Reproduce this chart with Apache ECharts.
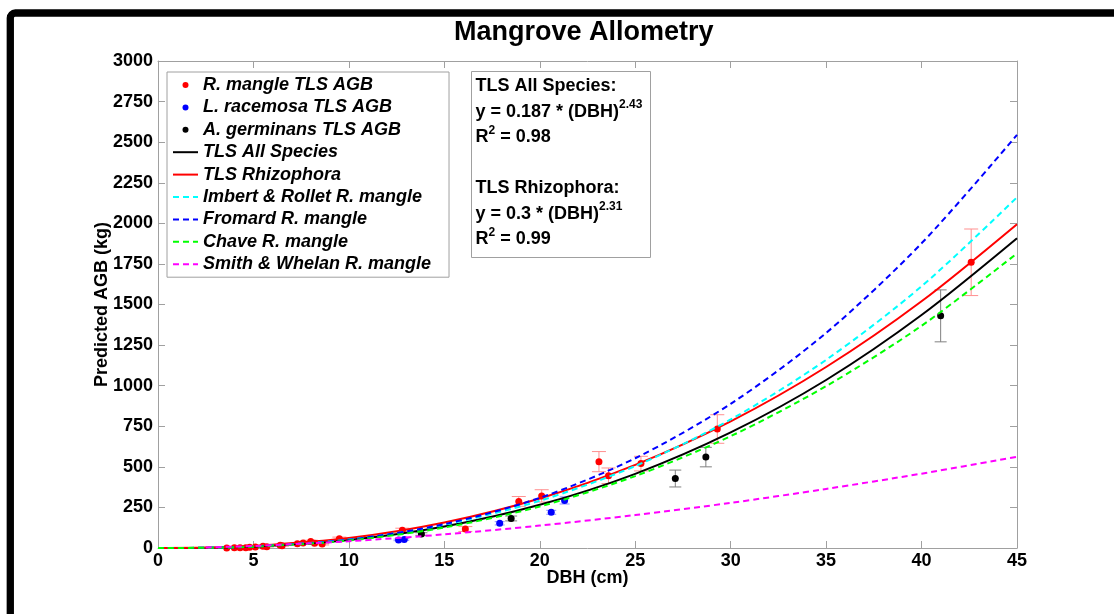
<!DOCTYPE html>
<html>
<head>
<meta charset="utf-8">
<title>Mangrove Allometry</title>
<script src="https://cdn.jsdelivr.net/npm/echarts@6/dist/echarts.min.js"></script>
<style>
  html, body { margin: 0; padding: 0; background: #fff; }
  #chart { width: 1114px; height: 614px; }
</style>
</head>
<body>
<div id="chart"></div>
<script>
// field measurements (DBH in cm, AGB in kg, +/- error)
const rmangleDbh = [3.6, 4.0, 4.3, 4.6, 4.8, 5.1, 5.5, 5.7, 6.4, 6.5, 7.3, 7.6, 8.0, 8.2, 8.6, 9.5, 12.8, 16.1, 18.9, 20.1, 23.1, 23.6, 25.3, 29.3, 42.6]
const rmangleAgb = [0, 1, 2, 2, 4, 6, 11, 8, 17, 14, 26, 31, 40, 30, 24, 57, 110, 117, 287, 321, 532, 445, 520, 733, 1760]
const rmangleErr = [1, 1, 1, 1, 2, 2, 3, 2, 4, 3, 5, 6, 8, 6, 5, 10, 12, 15, 30, 38, 62, 48, 45, 88, 205]

const lracemosaDbh = [12.6, 12.9, 17.9, 20.6, 21.3]
const lracemosaAgb = [50, 52, 152, 220, 293]
const lracemosaErr = [5, 5, 10, 12, 22]

const agermDbh = [13.8, 18.5, 27.1, 28.7, 41.0]
const agermAgb = [86, 182, 428, 560, 1430]
const agermErr = [8, 15, 52, 60, 160]

// allometric curves
const curveDbh = [0, 2.5, 5, 10, 15, 20, 25, 30, 35, 40, 45]
const allSpecies = [0, 1.7, 9.1, 49, 132, 266, 457, 712, 1035, 1435, 1908]
const rhizophora = [0, 2.5, 12.4, 61, 157, 305, 512, 780, 1115, 1520, 1995]
const imbertRollet = [0, 1.7, 9.5, 52.5, 143, 291, 505, 792, 1159, 1612, 2160]
const fromard = [0, 1.4, 8.4, 51, 147, 309, 553, 888, 1325, 1877, 2545]
const chave = [0, 1.6, 8.3, 46, 126, 256, 443, 689, 997, 1369, 1815]
const smithDbh = [2.5, 5, 10, 15, 20, 25, 30, 35, 40, 45]
const smithWhelan = [3.8, 12.5, 41.6, 84, 138, 203, 278, 364, 458, 562]

const xTicks = { min: 0, max: 45, interval: 5 }
const yTicks = { min: 0, max: 3000, interval: 250 }

const pairs = (xs, ys) => xs.map((x, i) => [x, ys[i]])
const errRows = (xs, ys, es) => xs.map((x, i) => [x, ys[i] - es[i], ys[i] + es[i]])

const errorBar = (color, capW) => (params, api) => {
  const x = api.value(0)
  const lo = api.coord([x, api.value(1)])
  const hi = api.coord([x, api.value(2)])
  const h = capW / 2
  const style = { stroke: color, lineWidth: 1 }
  return {
    type: 'group',
    children: [
      { type: 'line', shape: { x1: lo[0], y1: lo[1], x2: hi[0], y2: hi[1] }, style },
      { type: 'line', shape: { x1: hi[0] - h, y1: hi[1], x2: hi[0] + h, y2: hi[1] }, style },
      { type: 'line', shape: { x1: lo[0] - h, y1: lo[1], x2: lo[0] + h, y2: lo[1] }, style }
    ]
  }
}

const FONT = 'Liberation Sans, Arial, sans-serif'
const AXIS_GRAY = '#a0a0a0'
const dotIcon = 'path://M0,0M25,14M9.5,7a3,3 0 1,0 6,0a3,3 0 1,0 -6,0Z'
// hide the marker ECharts puts in the middle of a line legend icon
const noMarker = { color: 'rgba(0,0,0,0)', opacity: 0, borderWidth: 0 }

const curve = (name, xs, ys, color, dashed) => ({
  name,
  type: 'line',
  data: pairs(xs, ys),
  smooth: 0.3,
  symbol: 'none',
  lineStyle: { color, width: 2, type: dashed ? [6, 4] : 'solid' },
  itemStyle: { color },
  z: 4
})

const dots = (name, xs, ys, color) => ({
  name,
  type: 'scatter',
  data: pairs(xs, ys),
  symbolSize: 7,
  itemStyle: { color, opacity: 1 },
  z: 3
})

const bars = (xs, ys, es, color, capW) => ({
  type: 'custom',
  data: errRows(xs, ys, es),
  encode: { x: 0, y: [1, 2] },
  renderItem: errorBar(color, capW),
  silent: true,
  z: 2
})

const chart = echarts.init(document.getElementById('chart'))

const axisCommon = {
  type: 'value',
  axisLine: { show: true, onZero: false, lineStyle: { color: AXIS_GRAY, width: 1 } },
  axisTick: { show: true, inside: true, length: 7, lineStyle: { color: AXIS_GRAY } },
  splitLine: { show: false }
}
const tickLabel = (margin) => ({
  margin,
  formatter: (v) => String(v),
  fontFamily: FONT, fontSize: 18, fontWeight: 'bold', color: '#000'
})
const nameStyle = { fontFamily: FONT, fontSize: 18, fontWeight: 'bold', color: '#000' }

chart.setOption({
  animation: false,
  backgroundColor: '#fff',
  title: {
    text: 'Mangrove Allometry',
    left: 454,
    top: 19,
    padding: 0,
    textStyle: { fontFamily: FONT, fontSize: 27, fontWeight: 'bold', color: '#000' }
  },
  grid: { left: 158, right: 97, top: 61, bottom: 66 },
  xAxis: [
    Object.assign({}, axisCommon, xTicks, {
      position: 'bottom',
      name: 'DBH (cm)',
      nameLocation: 'middle',
      nameGap: 21,
      nameMoveOverlap: false,
      nameTextStyle: nameStyle,
      axisLabel: tickLabel(4)
    }),
    Object.assign({}, axisCommon, xTicks, { position: 'top', axisLabel: { show: false } })
  ],
  yAxis: [
    Object.assign({}, axisCommon, yTicks, {
      position: 'left',
      name: 'Predicted AGB (kg)',
      nameLocation: 'middle',
      nameGap: 47,
      nameMoveOverlap: false,
      nameTextStyle: nameStyle,
      axisLabel: tickLabel(5)
    }),
    Object.assign({}, axisCommon, yTicks, { position: 'right', axisLabel: { show: false } })
  ],
  legend: {
    orient: 'vertical',
    left: 167,
    top: 72,
    padding: [4, 18, 4, 5],
    itemGap: 4.4,
    itemWidth: 25,
    itemHeight: 14,
    backgroundColor: '#fff',
    borderColor: AXIS_GRAY,
    borderWidth: 1,
    borderRadius: 0,
    selectedMode: false,
    textStyle: { fontFamily: FONT, fontSize: 18, fontWeight: 'bold', fontStyle: 'italic', color: '#000', lineHeight: 18 },
    data: [
      { name: 'R. mangle TLS AGB', icon: dotIcon },
      { name: 'L. racemosa TLS AGB', icon: dotIcon },
      { name: 'A. germinans TLS AGB', icon: dotIcon },
      { name: 'TLS All Species', itemStyle: noMarker },
      { name: 'TLS Rhizophora', itemStyle: noMarker },
      { name: 'Imbert & Rollet R. mangle', itemStyle: noMarker },
      { name: 'Fromard R. mangle', itemStyle: noMarker },
      { name: 'Chave R. mangle', itemStyle: noMarker },
      { name: 'Smith & Whelan R. mangle', itemStyle: noMarker }
    ]
  },
  graphic: [
    {
      type: 'rect',
      shape: { x: 10.3, y: 13, width: 1300, height: 800, r: 5 },
      style: { fill: null, stroke: '#000', lineWidth: 7.3 },
      silent: true
    },
    {
      type: 'group',
      left: 471,
      top: 71,
      children: [
        {
          type: 'rect',
          shape: { x: 0, y: 0, width: 179, height: 186 },
          style: { fill: '#fff', stroke: AXIS_GRAY, lineWidth: 1 }
        },
        {
          type: 'text',
          x: 4,
          y: 2,
          style: {
            text: '{t|TLS All Species:}\n{t|y = 0.187 * (DBH)}{s|2.43}\n{t|R}{s|2}{t| = 0.98}\n{t| }\n{t|TLS Rhizophora:}\n{t|y = 0.3 * (DBH)}{s|2.31}\n{t|R}{s|2}{t| = 0.99}',
            rich: {
              t: { fontFamily: FONT, fontSize: 18, fontWeight: 'bold', fill: '#000', lineHeight: 25.5 },
              s: { fontFamily: FONT, fontSize: 12, fontWeight: 'bold', fill: '#000', lineHeight: 12, verticalAlign: 'top' }
            }
          }
        }
      ]
    }
  ],
  series: [
    bars(rmangleDbh, rmangleAgb, rmangleErr, '#ff8f8f', 14),
    bars(lracemosaDbh, lracemosaAgb, lracemosaErr, '#8f8fff', 10),
    bars(agermDbh, agermAgb, agermErr, '#808080', 12),
    dots('R. mangle TLS AGB', rmangleDbh, rmangleAgb, '#ff0000'),
    dots('L. racemosa TLS AGB', lracemosaDbh, lracemosaAgb, '#0000ff'),
    dots('A. germinans TLS AGB', agermDbh, agermAgb, '#000000'),
    curve('TLS All Species', curveDbh, allSpecies, '#000000', false),
    curve('TLS Rhizophora', curveDbh, rhizophora, '#ff0000', false),
    curve('Imbert & Rollet R. mangle', curveDbh, imbertRollet, '#00ffff', true),
    curve('Fromard R. mangle', curveDbh, fromard, '#0000ff', true),
    curve('Chave R. mangle', curveDbh, chave, '#00ff00', true),
    curve('Smith & Whelan R. mangle', smithDbh, smithWhelan, '#ff00ff', true)
  ]
})

window.addEventListener('resize', () => chart.resize())
</script>
</body>
</html>
